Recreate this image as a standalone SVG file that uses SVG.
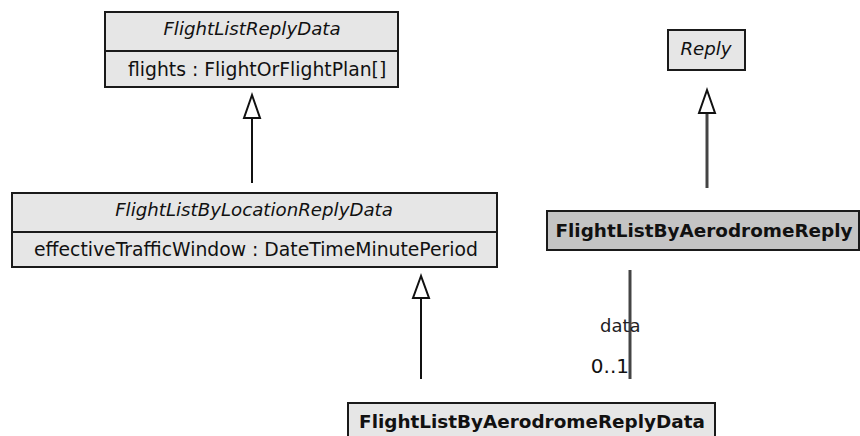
<svg xmlns="http://www.w3.org/2000/svg" width="860" height="436" viewBox="0 0 860 436">
  <style>
    .box { fill: #e6e6e6; stroke: #1a1a1a; stroke-width: 2; }
    .boxDark { fill: #c4c4c4; stroke: #1a1a1a; stroke-width: 2; }
    .name { font-family: "DejaVu Sans", sans-serif; font-size: 18.2px; font-style: italic; fill: #111; text-anchor: middle; }
    .bold { font-family: "DejaVu Sans", sans-serif; font-size: 18.4px; font-weight: bold; fill: #111; text-anchor: middle; }
    .attr { font-family: "DejaVu Sans", sans-serif; font-size: 18.8px; fill: #111; }
    .lbl { font-family: "DejaVu Sans", sans-serif; font-size: 18px; fill: #222; }
    .mult { font-family: "DejaVu Sans", sans-serif; font-size: 20px; fill: #111; text-anchor: end; }
    .edge { stroke: #111; stroke-width: 2; fill: none; }
    .edgeGray { stroke: #444; stroke-width: 3; fill: none; }
    .tri { fill: #fff; stroke: #111; stroke-width: 2; }
  </style>

  <g id="FlightListReplyData">
    <rect class="box" x="105" y="12" width="293" height="75"/>
    <line x1="105" y1="51" x2="398" y2="51" stroke="#1a1a1a" stroke-width="2"/>
    <text class="name" x="252" y="35">FlightListReplyData</text>
    <text class="attr" x="128" y="76">flights : FlightOrFlightPlan[]</text>
  </g>

  <g id="FlightListByLocationReplyData">
    <rect class="box" x="12" y="193" width="485" height="74"/>
    <line x1="12" y1="232" x2="497" y2="232" stroke="#1a1a1a" stroke-width="2"/>
    <text class="name" x="254" y="216">FlightListByLocationReplyData</text>
    <text class="attr" x="34" y="256">effectiveTrafficWindow : DateTimeMinutePeriod</text>
  </g>

  <g id="Reply">
    <rect class="box" x="668" y="30" width="77" height="40"/>
    <text class="name" x="706" y="55">Reply</text>
  </g>

  <g id="FlightListByAerodromeReply">
    <rect class="boxDark" x="547" y="211" width="312" height="39"/>
    <text class="bold" x="704" y="237">FlightListByAerodromeReply</text>
  </g>

  <g id="FlightListByAerodromeReplyData">
    <rect class="box" x="348" y="403" width="367" height="40"/>
    <text class="bold" x="532" y="428">FlightListByAerodromeReplyData</text>
  </g>

  <g id="connectors">
    <!-- FlightListByLocationReplyData generalizes FlightListReplyData -->
    <line class="edge" x1="252" y1="183" x2="252" y2="118"/>
    <polygon class="tri" points="252,95 244,118 260,118"/>

    <!-- FlightListByAerodromeReply generalizes Reply -->
    <line class="edgeGray" x1="707" y1="188" x2="707" y2="113"/>
    <polygon class="tri" points="707,90 699,113 715,113"/>

    <!-- FlightListByAerodromeReplyData generalizes FlightListByLocationReplyData -->
    <line class="edge" x1="421" y1="379" x2="421" y2="298"/>
    <polygon class="tri" points="421,276 413,298 429,298"/>

    <!-- association: data 0..1 -->
    <line class="edgeGray" x1="630" y1="270" x2="630" y2="379" stroke-width="2"/>
    <text class="lbl" x="600" y="332">data</text>
    <text class="mult" x="629" y="373">0..1</text>
  </g>
</svg>
